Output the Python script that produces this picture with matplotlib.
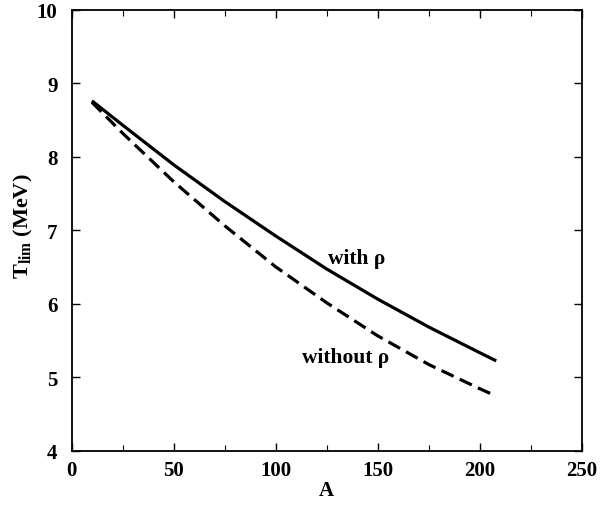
import matplotlib
matplotlib.use("Agg")
import matplotlib.pyplot as plt
from matplotlib.ticker import MultipleLocator

# Data
A_vals = [10, 25, 50, 75, 100, 125, 150, 175, 200, 208]
T_with_rho = [8.76, 8.43, 7.89, 7.39, 6.92, 6.47, 6.06, 5.68, 5.33, 5.22]
T_without_rho = [8.74, 8.32, 7.66, 7.06, 6.50, 6.01, 5.56, 5.17, 4.84, 4.74]

x_ticks = [0, 50, 100, 150, 200, 250]
y_ticks = [4, 5, 6, 7, 8, 9, 10]

plt.rcParams['font.family'] = ['Liberation Serif', 'DejaVu Serif']
plt.rcParams['font.weight'] = 'bold'
plt.rcParams['mathtext.fontset'] = 'custom'
plt.rcParams['mathtext.rm'] = 'Liberation Serif:bold'
plt.rcParams['mathtext.it'] = 'Liberation Serif:bold'
plt.rcParams['mathtext.bf'] = 'Liberation Serif:bold'

fig = plt.figure(figsize=(6.03, 5.06), dpi=100)
ax = fig.add_axes([71.5/603, (506-451.5)/506, (582-71.5)/603, (451.5-10.7)/506])

ax.plot(A_vals, T_with_rho, color='black', lw=2.3, solid_capstyle='butt')
ax.plot(A_vals, T_without_rho, color='black', lw=2.3, dashes=(4.2, 2.1), dash_capstyle='butt')

ax.set_xlim(0, 250)
ax.set_ylim(4, 10)
ax.set_xticks(x_ticks)
ax.set_yticks(y_ticks)
ax.xaxis.set_minor_locator(MultipleLocator(25))

ax.tick_params(axis='both', which='major', direction='in', length=6, width=1.0,
               labelsize=15, top=True, right=True)
ax.tick_params(axis='x', which='major', pad=7)
ax.tick_params(axis='y', which='major', pad=10)
ax.tick_params(axis='x', which='minor', direction='in', length=4, width=0.8,
               top=True)
for lab in ax.get_xticklabels() + ax.get_yticklabels():
    lab.set_fontweight('bold')

for s in ax.spines.values():
    s.set_linewidth(1.3)

ax.set_xlabel('A', fontsize=15, fontweight='bold', labelpad=0)
ax.set_ylabel(r'T$_{\mathrm{lim}}$ (MeV)', fontsize=16, fontweight='bold')
ax.yaxis.set_label_coords(-0.072, 0.51)

ax.text(125.6, 6.62, 'with ρ', fontsize=15.5, fontweight='bold', va='center', ha='left')
ax.text(112.7, 5.27, 'without ρ', fontsize=15.5, fontweight='bold', va='center', ha='left')

fig.savefig('out.png', dpi=100)
